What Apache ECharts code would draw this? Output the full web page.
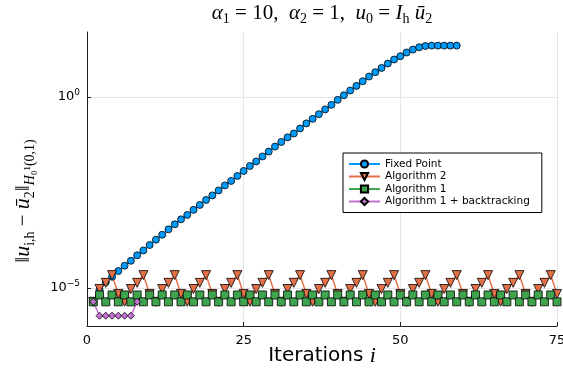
<!DOCTYPE html>
<html>
<head>
<meta charset="utf-8">
<script src="https://cdn.jsdelivr.net/npm/echarts@6/dist/echarts.min.js"></script>
<style>
  html, body { margin: 0; padding: 0; background: #fff; }
  #chart { width: 563px; height: 369px; }
</style>
</head>
<body>
<div id="chart"></div>
<script>
// error norms per iteration (iterations start at 1)
const fixedPoint = [
  4.3e-6, 8.9e-6, 1.41e-5, 1.95e-5, 2.75e-5, 3.8e-5, 5.1e-5, 7.1e-5, 9.5e-5, 1.32e-4,
  1.82e-4, 2.45e-4, 3.4e-4, 4.6e-4, 6.2e-4, 8.1e-4, 1.1e-3, 1.48e-3, 2.0e-3, 2.63e-3,
  3.55e-3, 4.8e-3, 6.3e-3, 8.5e-3, 1.15e-2, 1.55e-2, 2.04e-2, 2.75e-2, 3.7e-2, 5.0e-2,
  6.6e-2, 8.7e-2, 0.110, 0.149, 0.202, 0.266, 0.353, 0.469, 0.618, 0.836,
  1.107, 1.469, 1.941, 2.57, 3.41, 4.43, 5.73, 7.46, 9.51, 11.6,
  14.5, 17.3, 19.9, 21.5, 22.0, 22.0, 22.0, 22.0, 22.0
]
const algorithm2 = [
  4.3e-6, 9.3e-6, 1.35e-5, 2.15e-5, 6.9e-6,
  4.3e-6, 9.3e-6, 1.35e-5, 2.15e-5, 6.9e-6,
  4.3e-6, 9.3e-6, 1.35e-5, 2.15e-5, 6.9e-6,
  4.3e-6, 9.3e-6, 1.35e-5, 2.15e-5, 6.9e-6,
  4.3e-6, 9.3e-6, 1.35e-5, 2.15e-5, 6.9e-6,
  4.3e-6, 9.3e-6, 1.35e-5, 2.15e-5, 6.9e-6,
  4.3e-6, 9.3e-6, 1.35e-5, 2.15e-5, 6.9e-6,
  4.3e-6, 9.3e-6, 1.35e-5, 2.15e-5, 6.9e-6,
  4.3e-6, 9.3e-6, 1.35e-5, 2.15e-5, 6.9e-6,
  4.3e-6, 9.3e-6, 1.35e-5, 2.15e-5, 6.9e-6,
  4.3e-6, 9.3e-6, 1.35e-5, 2.15e-5, 6.9e-6,
  4.3e-6, 9.3e-6, 1.35e-5, 2.15e-5, 6.9e-6,
  4.3e-6, 9.3e-6, 1.35e-5, 2.15e-5, 6.9e-6,
  4.3e-6, 9.3e-6, 1.35e-5, 2.15e-5, 6.9e-6,
  4.3e-6, 9.3e-6, 1.35e-5, 2.15e-5, 6.9e-6
]
const algorithm1 = [
  4.3e-6, 6.5e-6, 4.3e-6, 6.5e-6, 4.3e-6, 6.5e-6, 4.3e-6, 6.5e-6, 4.3e-6, 6.5e-6,
  4.3e-6, 6.5e-6, 4.3e-6, 6.5e-6, 4.3e-6, 6.5e-6, 4.3e-6, 6.5e-6, 4.3e-6, 6.5e-6,
  4.3e-6, 6.5e-6, 4.3e-6, 6.5e-6, 4.3e-6, 6.5e-6, 4.3e-6, 6.5e-6, 4.3e-6, 6.5e-6,
  4.3e-6, 6.5e-6, 4.3e-6, 6.5e-6, 4.3e-6, 6.5e-6, 4.3e-6, 6.5e-6, 4.3e-6, 6.5e-6,
  4.3e-6, 6.5e-6, 4.3e-6, 6.5e-6, 4.3e-6, 6.5e-6, 4.3e-6, 6.5e-6, 4.3e-6, 6.5e-6,
  4.3e-6, 6.5e-6, 4.3e-6, 6.5e-6, 4.3e-6, 6.5e-6, 4.3e-6, 6.5e-6, 4.3e-6, 6.5e-6,
  4.3e-6, 6.5e-6, 4.3e-6, 6.5e-6, 4.3e-6, 6.5e-6, 4.3e-6, 6.5e-6, 4.3e-6, 6.5e-6,
  4.3e-6, 6.5e-6, 4.3e-6, 6.5e-6, 4.3e-6
]
const algorithm1Bt = [4.3e-6, 1.86e-6, 1.86e-6, 1.86e-6, 1.86e-6, 1.86e-6, 1.86e-6, 4.3e-6]

const seriesNames = ['Fixed Point', 'Algorithm 2', 'Algorithm 1', 'Algorithm 1 + backtracking']
const xTicks = [0, 25, 50, 75]
const yTicks = [1e-5, 1]

const SERIF = 'Liberation Serif'
const SANS = 'DejaVu Sans'

function toPoints(arr) {
  return arr.map((v, k) => [k + 1, v])
}

function lineSeries(name, data, color, symbol, size, extra) {
  return Object.assign({
    name: name,
    type: 'line',
    data: toPoints(data),
    symbol: symbol,
    symbolSize: size,
    showAllSymbol: true,
    animation: false,
    lineStyle: { color: color, width: 1.5 },
    itemStyle: { color: color, borderColor: '#000', borderWidth: 0.8, opacity: 1 },
    emphasis: { disabled: true }
  }, extra || {})
}

// rich text pieces, all plain weight
function txt(family, size, lh, more) {
  return Object.assign({ fontFamily: family, fontSize: size, lineHeight: lh, fontWeight: 'normal', color: '#000' }, more || {})
}

const chart = echarts.init(document.getElementById('chart'), null, { renderer: 'canvas' })

chart.setOption({
  backgroundColor: '#fff',
  animation: false,
  title: {
    text: '{i|α}{s|1}{r| = 10,  }{i|α}{s|2}{r| = 1,  }{i|u}{s|0}{r| = }{i|I}{s|h}{i| u\u0304}{s|2}',
    left: 322,
    top: 0,
    padding: 0,
    textAlign: 'center',
    textStyle: {
      fontWeight: 'normal',
      rich: {
        i: txt(SERIF, 21, 26, { fontStyle: 'italic' }),
        r: txt(SERIF, 21, 26),
        s: txt(SERIF, 14, 12, { verticalAlign: 'bottom' })
      }
    }
  },
  grid: { left: 87, right: 6, top: 32, bottom: 43, containLabel: false, outerBoundsMode: 'none' },
  legend: {
    orient: 'vertical',
    left: 343,
    top: 153,
    padding: [5, 12, 5, 5],
    itemWidth: 31,
    itemHeight: 9,
    itemGap: 0.5,
    borderColor: '#000',
    borderWidth: 1,
    backgroundColor: '#fff',
    data: seriesNames,
    textStyle: { fontFamily: SANS, fontSize: 10.5, lineHeight: 12, color: '#000' }
  },
  xAxis: {
    type: 'value',
    min: xTicks[0],
    max: xTicks[xTicks.length - 1],
    interval: 25,
    name: '{r|Iterations }{i|i}',
    nameLocation: 'middle',
    nameGap: 17,
    nameMoveOverlap: false,
    nameTextStyle: {
      rich: {
        r: txt(SANS, 20, 26),
        i: txt(SERIF, 22, 26, { fontStyle: 'italic' })
      }
    },
    axisLine: { lineStyle: { color: '#222', width: 1 } },
    axisTick: { inside: true, length: 4, lineStyle: { color: '#222' } },
    axisLabel: { fontFamily: SANS, fontSize: 13, color: '#000', margin: 8, showMaxLabel: true, showMinLabel: true },
    splitLine: { show: true, lineStyle: { color: '#e6e6e6', width: 1 } }
  },
  yAxis: {
    type: 'log',
    logBase: 10,
    min: 1e-6,
    max: 50,
    name: '{b|‖}{i|u}{s|i,h}{r| − }{i|u\u0304}{s|2}{b|‖}{si|H}{s|₀¹(0,1)}',
    nameLocation: 'middle',
    nameRotate: 90,
    nameGap: 50,
    nameTextStyle: {
      padding: [0, 44, 0, 0],
      rich: {
        b: txt(SERIF, 21, 28),
        i: txt(SERIF, 22, 28, { fontStyle: 'italic' }),
        r: txt(SERIF, 21, 28),
        s: txt(SERIF, 14, 13, { verticalAlign: 'bottom' }),
        si: txt(SERIF, 14, 13, { verticalAlign: 'bottom', fontStyle: 'italic' })
      }
    },
    axisLine: { show: true, lineStyle: { color: '#222', width: 1 } },
    axisTick: { show: true, inside: true, length: 4, customValues: yTicks, lineStyle: { color: '#222' } },
    axisLabel: {
      customValues: yTicks,
      margin: 7,
      fontFamily: SANS,
      fontSize: 13,
      lineHeight: 18,
      color: '#000',
      formatter: function (v) {
        const e = Math.round(Math.log10(v))
        return '10{sup|' + (e < 0 ? '−' + (-e) : e) + '}'
      },
      rich: {
        sup: txt(SANS, 9, 9, { verticalAlign: 'top' })
      }
    },
    splitLine: { show: true, lineStyle: { color: '#e6e6e6', width: 1 } },
    minorTick: { show: false }
  },
  series: [
    lineSeries(seriesNames[0], fixedPoint, '#009AFA', 'circle', 7),
    lineSeries(seriesNames[1], algorithm2, '#E36F47', 'triangle', 9, { symbolRotate: 180 }),
    lineSeries(seriesNames[2], algorithm1, '#3EA44E', 'rect', 8),
    lineSeries(seriesNames[3], algorithm1Bt, '#C371D2', 'diamond', 7)
  ]
})
</script>
</body>
</html>
